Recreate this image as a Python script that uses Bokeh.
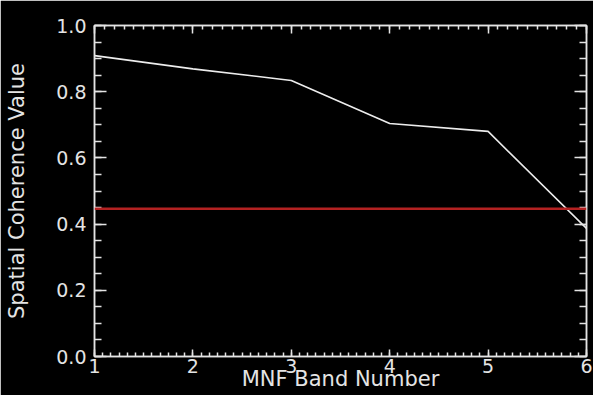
from bokeh.plotting import figure
from bokeh.models import (Range1d, LinearAxis, SingleIntervalTicker, PrintfTickFormatter,
                          Span)
from bokeh.embed import file_html
from bokeh.resources import INLINE

# ---- data ----
bands = [1, 2, 3, 4, 5, 6]
coherence = [0.909, 0.869, 0.834, 0.704, 0.680, 0.387]
threshold = [0.446]
x_label = "MNF Band Number"
y_label = "Spatial Coherence Value"

FG = "#e4e4e4"
FONT = "DejaVu Sans"
FS = "19px"

p = figure(width=593, height=395, output_backend="svg", toolbar_location=None,
           x_range=Range1d(1, 6), y_range=Range1d(0, 1),
           x_axis_location=None, y_axis_location=None,
           min_border_left=94, min_border_right=7, min_border_top=25, min_border_bottom=39)
p.background_fill_color = "black"
p.border_fill_color = "black"
p.outline_line_color = FG
p.outline_line_width = 1.5
p.xgrid.visible = False
p.ygrid.visible = False


def style_axis(ax, major_in, minor_in, labels):
    ax.axis_line_color = FG
    ax.axis_line_width = 1.5
    ax.major_tick_line_color = FG
    ax.minor_tick_line_color = FG
    ax.major_tick_line_width = 1.5
    ax.minor_tick_line_width = 1.5
    ax.major_tick_in = major_in
    ax.major_tick_out = 0
    ax.minor_tick_in = minor_in
    ax.minor_tick_out = 0
    ax.major_label_text_color = FG
    ax.major_label_text_font = FONT
    ax.major_label_text_font_size = FS
    ax.axis_label_text_color = FG
    ax.axis_label_text_font = FONT
    ax.axis_label_text_font_size = FS
    ax.axis_label_text_font_style = "normal"
    if not labels:
        ax.major_label_text_font_size = "0px"
        ax.major_label_text_alpha = 0


bottom = LinearAxis(ticker=SingleIntervalTicker(interval=1, num_minor_ticks=12),
                    axis_label=x_label)
style_axis(bottom, 7, 4, True)
bottom.major_label_standoff = 2
bottom.axis_label_text_font_size = "21px"
bottom.axis_label_standoff = -9
p.add_layout(bottom, "below")

top = LinearAxis(ticker=SingleIntervalTicker(interval=1, num_minor_ticks=10))
style_axis(top, 8, 4, False)
p.add_layout(top, "above")

left = LinearAxis(ticker=SingleIntervalTicker(interval=0.2, num_minor_ticks=4),
                  formatter=PrintfTickFormatter(format="%.1f"), axis_label=y_label)
style_axis(left, 12, 7, True)
left.major_label_standoff = 8
left.axis_label_text_font_size = "21px"
left.axis_label_standoff = 24
p.add_layout(left, "left")

right = LinearAxis(ticker=SingleIntervalTicker(interval=0.2, num_minor_ticks=4))
style_axis(right, 12, 7, False)
p.add_layout(right, "right")

p.line(bands, coherence, line_color="#ececec", line_width=1.6)
p.add_layout(Span(location=threshold[0], dimension="width",
                  line_color="#b42222", line_width=2.5))

open("out.html", "w").write(file_html(p, INLINE))
